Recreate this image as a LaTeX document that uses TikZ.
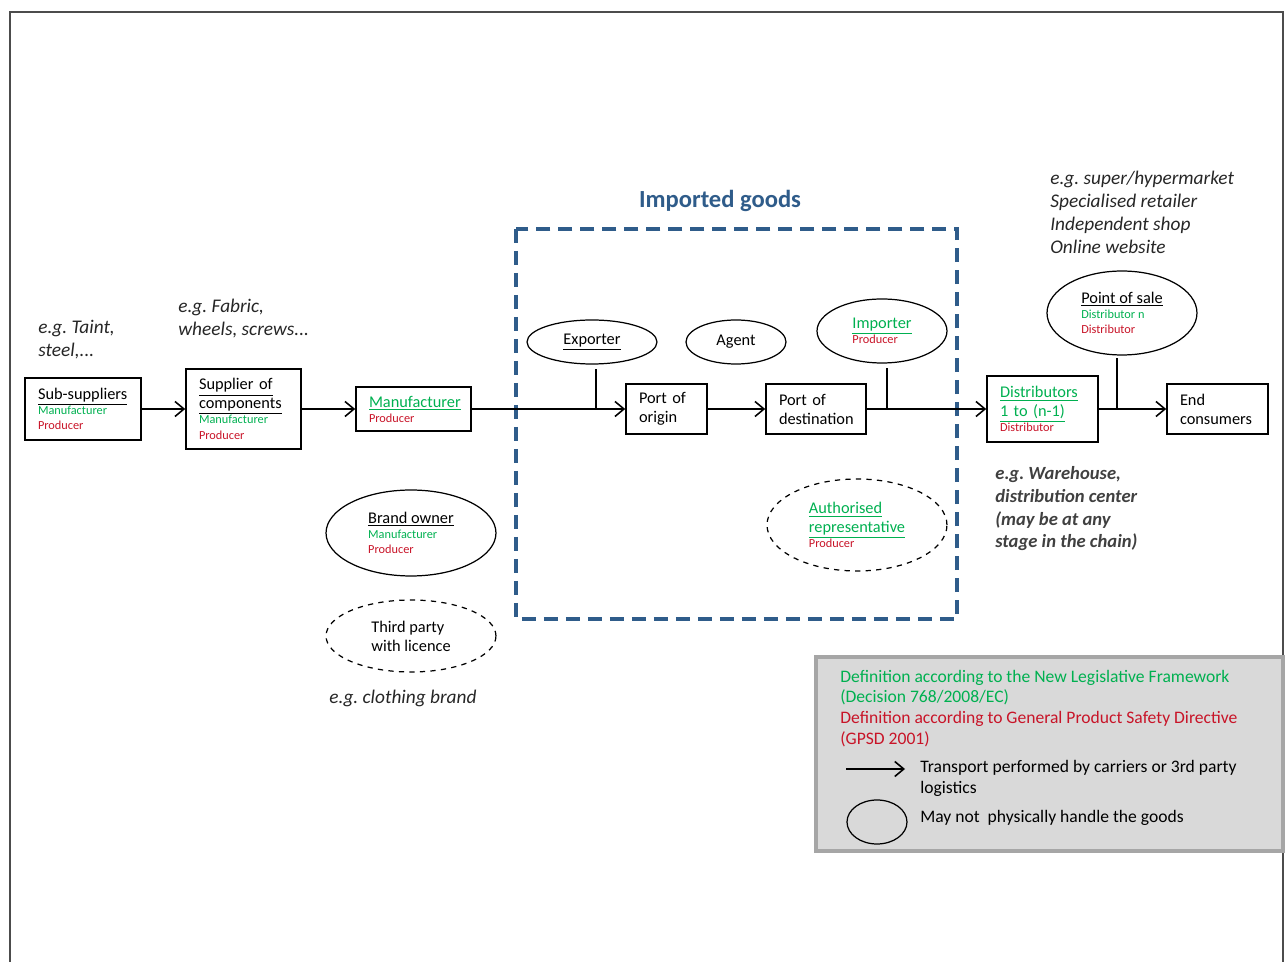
\documentclass[tikz,border=0pt]{standalone}
\usepackage{fontspec}
\setmainfont{Carlito}
\usepackage{xcolor}
\usetikzlibrary{arrows.meta, shapes.geometric}
\definecolor{nlfgreen}{RGB}{0,176,80}
\definecolor{gpsdred}{RGB}{200,20,40}
\definecolor{impblue}{RGB}{47,92,138}
\definecolor{legendgray}{RGB}{217,217,217}
\definecolor{legendedge}{RGB}{166,166,166}
\newcommand{\nlf}[1]{\textcolor{nlfgreen}{\fontsize{7}{8}\selectfont #1}}
\newcommand{\gpsd}[1]{\textcolor{gpsdred}{\fontsize{7}{8}\selectfont #1}}
\newcommand{\nlfu}[1]{\textcolor{nlfgreen}{\underline{#1}}}
\frenchspacing

\begin{document}
\begin{tikzpicture}[x=0.02cm, y=-0.02cm,
    font=\fontsize{9.3}{10.8}\selectfont,
    >={Straight Barb[length=0.18cm, width=0.3cm]},
    box/.style={draw, line width=0.9pt, inner xsep=0.26cm, inner ysep=0pt, align=left, text width=#1},
    actor/.style={ellipse, draw, line width=0.7pt, inner sep=0pt, align=left},
    maybe/.style={actor, dashed},
    note/.style={inner sep=0pt, anchor=west, align=left, font=\fontsize{11}{13}\selectfont\itshape, text=black!85},
    legtext/.style={anchor=west, inner sep=0pt, align=left, font=\fontsize{10}{11.9}\selectfont},
    link/.style={line width=0.9pt}]
    \useasboundingbox (0,0) rectangle (1286,962);
    % page frame
    \draw[black!70, line width=1.2pt] (10,962) -- (10,12) -- (1283,12) -- (1283,962);
    % imported goods
    \draw[impblue, line width=2.3pt, dash pattern=on 0.28cm off 0.16cm] (516,229) rectangle (957,619);
    \node[text=impblue, font=\fontsize{14}{16}\selectfont\bfseries] (imptitle) at (720,201) {Imported goods};
    % supply chain
    \node[box=1.8cm, minimum height=1.24cm] (sub) at (83,409) {\underline{Sub-suppliers}\\[-2.3pt]\nlf{Manufacturer}\\[-1.8pt]\gpsd{Producer}};
    \node[box=1.78cm, minimum height=1.6cm] (sup) at (243.5,409) {\underline{Supplier of}\\\underline{components}\\[-2.3pt]\nlf{Manufacturer}\\[-1.8pt]\gpsd{Producer}};
    \node[box=1.78cm, minimum height=0.88cm] (man) at (413.5,409) {\nlfu{Manufacturer}\\[-2.3pt]\gpsd{Producer}};
    \node[box=1.1cm, minimum height=1.0cm] (porig) at (666.5,409) {Port of\\origin};
    \node[box=1.48cm, minimum height=1.0cm] (pdest) at (816,409) {Port of\\destination};
    \node[box=1.7cm, minimum height=1.32cm] (dist) at (1042.5,409) {\nlfu{Distributors}\\\nlfu{1 to (n-1)}\\[-2.3pt]\gpsd{Distributor}};
    \node[box=1.5cm, minimum height=1.0cm] (endc) at (1217.5,409) {End\\consumers};
    % actors
    \node[actor, minimum width=2.6cm, minimum height=0.88cm] (exp) at (592,342) {\underline{Exporter}};
    \node[actor, minimum width=2.0cm, minimum height=0.88cm] (agent) at (736,342) {Agent};
    \node[actor, minimum width=2.6cm, minimum height=1.28cm] (imp) at (882,331) {\nlfu{Importer}\\[-2.3pt]\gpsd{Producer}};
    \node[actor, minimum width=3.0cm, minimum height=1.68cm] (pos) at (1122,313) {\underline{Point of sale}\\[-2.3pt]\nlf{Distributor n}\\[-1.8pt]\gpsd{Distributor}};
    \node[maybe, minimum width=3.6cm, minimum height=1.84cm] (auth) at (857,525) {\nlfu{Authorised}\\\nlfu{representative}\\[-2.3pt]\gpsd{Producer}};
    \node[actor, minimum width=3.4cm, minimum height=1.72cm] (brand) at (411,533) {\underline{Brand owner}\\[-2.3pt]\nlf{Manufacturer}\\[-1.8pt]\gpsd{Producer}};
    \node[maybe, minimum width=3.4cm, minimum height=1.44cm] (third) at (411,636) {Third party\\with licence};
    % flows
    \draw[link, ->] (sub) -- (sup);
    \draw[link, ->] (sup) -- (man);
    \draw[link, ->] (man) -- (porig);
    \draw[link, ->] (porig) -- (pdest);
    \draw[link, ->] (pdest) -- (dist);
    \draw[link, ->] (dist) -- (endc);
    \coordinate (expj) at (596,409);
    \coordinate (impj) at (887,409);
    \coordinate (posj) at (1117,409);
    \draw[link, shorten >=0.08cm] (expj) -- (expj |- exp.south);
    \draw[link, shorten >=0.08cm] (impj) -- (impj |- imp.south);
    \draw[link, shorten >=0.04cm] (posj) -- (posj |- pos.south);
    % examples
    \node[note] (taint) at (38,339.5) {e.g. Taint,\\steel,...};
    \node[note] (fabric) at (178,318.5) {e.g. Fabric,\\wheels, screws...};
    \node[note] (shops) at (1050,212.5) {e.g. super/hypermarket\\Specialised retailer\\Independent shop\\Online website};
    \node[note, font=\fontsize{10.6}{12.9}\selectfont\bfseries\itshape, text=black!75] (whouse) at (995,509) {e.g. Warehouse,\\distribution center\\(may be at any\\stage in the chain)};
    \node[note, anchor=center] (cloth) at (403,698) {e.g. clothing brand};
    % legend
    \node[fill=legendgray, draw=legendedge, line width=2.3pt, minimum width=9.34cm, minimum height=3.88cm, inner sep=0pt] (legend) at (1049.5,754) {};
    \node[legtext] (defs) at (840,708.5) {\textcolor{nlfgreen}{Definition according to the New Legislative Framework}\\\textcolor{nlfgreen}{(Decision 768/2008/EC)}\\\textcolor{gpsdred}{Definition according to General Product Safety Directive}\\\textcolor{gpsdred}{(GPSD 2001)}};
    \coordinate (legA) at (846,769);
    \coordinate (legB) at (905,769);
    \draw[link, ->] (legA) -- (legB);
    \node[legtext] (transp) at (920,778) {Transport performed by carriers or 3rd party\\logistics};
    \node[actor, minimum width=1.2cm, minimum height=0.88cm] (legell) at (877,822) {};
    \node[legtext] (maynot) at (920,818) {May not\ \ physically handle the goods};
\end{tikzpicture}
\end{document}
